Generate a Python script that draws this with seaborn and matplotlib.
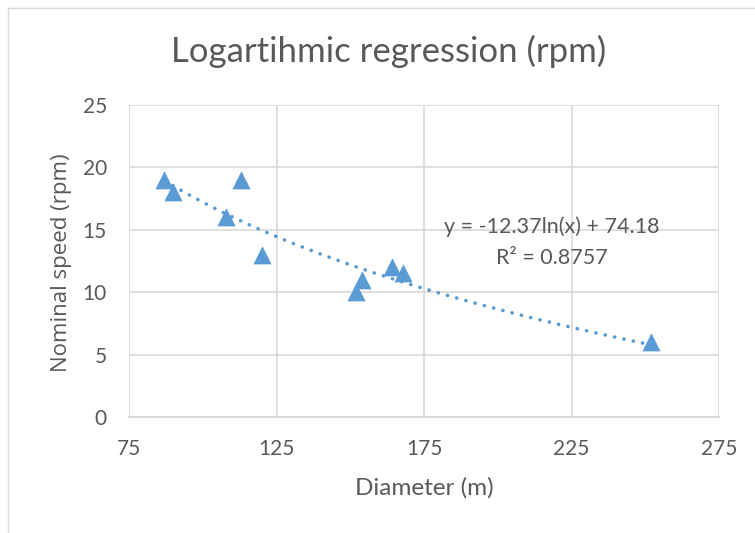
import numpy as np
import pandas as pd
import matplotlib
matplotlib.use("Agg")
import matplotlib.pyplot as plt
import seaborn as sns

diameter = [87, 90, 108, 113, 120, 152, 154, 164, 168, 252]
speed = [19, 18, 16, 19, 13, 10, 11, 12, 11.5, 6]
coef_a = -12.37
coef_b = 74.18
eq_text = "y = -12.37ln(x) + 74.18"
r2_text = "R² = 0.8757"
x_ticks = [75, 125, 175, 225, 275]
y_ticks = [0, 5, 10, 15, 20, 25]

sns.set_theme(style="white")
plt.rcParams['font.family'] = ['Lato', 'DejaVu Sans']

blue = "#5b9bd5"
grey_txt = "#595959"
grid_c = "#d9d9d9"

W, H = 755, 533
fig = plt.figure(figsize=(W / 100, H / 100), dpi=100)
fig.patches.append(plt.Rectangle((7.5 / W, -0.05), 1.1, 1 - 7.5 / H + 0.05, transform=fig.transFigure,
                                 fill=False, edgecolor=grid_c, linewidth=1.0))
ax = fig.add_axes([129 / W, 1 - 417 / H, (719 - 129) / W, (417 - 105) / H])

df = pd.DataFrame({"Diameter": diameter, "Speed": speed})
xs = np.linspace(min(diameter), max(diameter), 200)
trend = pd.DataFrame({"x": xs, "y": coef_a * np.log(xs) + coef_b})

sns.lineplot(data=trend, x="x", y="y", ax=ax, color=blue, linewidth=2.6,
             linestyle=(0, (0.05, 2.6)), dash_capstyle="round", zorder=2)
sns.scatterplot(data=df, x="Diameter", y="Speed", ax=ax, marker="^", s=150,
                color=blue, edgecolor=blue, linewidth=0.5, zorder=3)

ax.set_xlim(75, 275)
ax.set_ylim(0, 25)
ax.set_xticks(x_ticks)
ax.set_yticks(y_ticks)
ax.grid(True, color=grid_c, linewidth=1.2)
ax.set_axisbelow(True)
for s in ["top", "right", "left"]:
    ax.spines[s].set_visible(False)
ax.spines["bottom"].set_color(grid_c)
ax.spines["bottom"].set_linewidth(1.2)
ax.tick_params(axis="both", length=0, labelsize=15, colors=grey_txt)
ax.tick_params(axis="x", pad=16)
ax.tick_params(axis="y", pad=16)

ax.set_xlabel("Diameter (m)", fontsize=17.5, color=grey_txt)
ax.xaxis.set_label_coords(424 / W, 1 - 488 / H, transform=fig.transFigure)
ax.xaxis.label.set_va("center")
ax.set_ylabel("Nominal speed (rpm)", fontsize=16, color=grey_txt,
              family=['Open Sans', 'DejaVu Sans'])
ax.yaxis.set_label_coords(62 / W, 1 - 263 / H, transform=fig.transFigure)
ax.yaxis.label.set_va("center")

fig.text(389 / W, 1 - 51 / H, "Logartihmic regression (rpm)", ha="center", va="center",
         fontsize=25, color=grey_txt)

fig.text(551.5 / W, 1 - 233 / H, eq_text, fontsize=15.5, color=grey_txt,
         ha="center", va="baseline")
fig.text(551.5 / W, 1 - 264 / H, r2_text, fontsize=15.5, color=grey_txt,
         ha="center", va="baseline")

fig.savefig("out.png", dpi=100)
